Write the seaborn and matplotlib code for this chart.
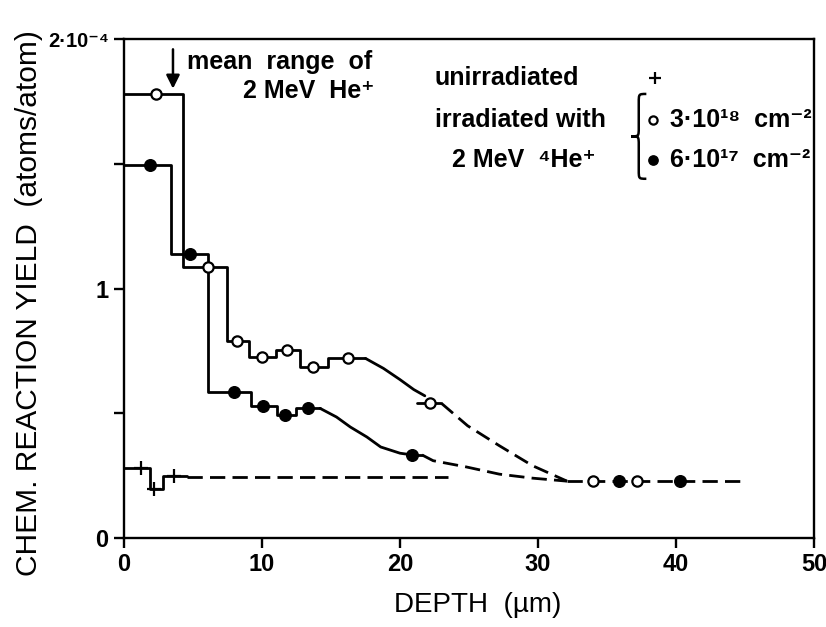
import matplotlib
matplotlib.use("Agg")
import matplotlib.pyplot as plt
import seaborn as sns
from matplotlib.path import Path
from matplotlib.patches import PathPatch

# Chemical reaction yield (units of 1e-4 atoms/atom) versus depth (µm)

# irradiated, 3·10^18 cm^-2 (open circles): histogram steps, then smooth fall-off
hi_edges = [0, 4.3, 7.45, 9.05, 11.0, 12.75, 14.8, 17.5]
hi_steps = [1.78, 1.085, 0.79, 0.725, 0.755, 0.685, 0.72]
hi_pts_x = [2.3, 6.1, 8.2, 10.0, 11.8, 13.7, 16.2]
hi_curve_x = [17.5, 18.8, 20.0, 21.0, 21.8]
hi_curve_y = [0.72, 0.68, 0.635, 0.595, 0.57]
hi_bar_x = [21.2, 23.0]
hi_bar_y = [0.54, 0.54]
hi_mid_x = [22.2]
hi_mid_y = [0.54]
hi_tail_x = [23.0, 24.9, 27.2, 29.6, 32.1]
hi_tail_y = [0.54, 0.45, 0.37, 0.29, 0.228]

# irradiated, 6·10^17 cm^-2 (filled circles)
lo_edges = [0, 3.4, 6.1, 9.2, 11.1, 12.5, 14.2]
lo_steps = [1.495, 1.14, 0.585, 0.53, 0.493, 0.52]
lo_pts_x = [1.9, 4.8, 8.0, 10.1, 11.7, 13.3]
lo_curve_x = [14.2, 15.4, 16.4, 17.6, 18.6, 20.0, 20.9]
lo_curve_y = [0.52, 0.485, 0.445, 0.405, 0.365, 0.34, 0.333]
lo_bar_x = [20.9, 21.6]
lo_bar_y = [0.333, 0.333]
lo_mid_x = [20.9]
lo_mid_y = [0.333]
lo_tail_x = [21.6, 22.4, 24.8, 27.2, 29.6, 32.1]
lo_tail_y = [0.333, 0.31, 0.285, 0.256, 0.24, 0.228]

# unirradiated (+)
un_edges = [0, 1.9, 2.8, 4.6]
un_steps = [0.28, 0.195, 0.25]
un_pts_x = [1.2, 2.2, 3.6]
un_line_x = [4.6, 23.5]
un_line_y = [0.245, 0.245]

# common deep background level
deep_x = [32.1, 44.8]
deep_y = [0.228, 0.228]
deep_open_x = [34.0, 37.2]
deep_fill_x = [35.9, 40.3]

x_ticks = [0, 10, 20, 30, 40, 50]
y_ticks = [0, 0.5, 1, 1.5, 2]
y_tick_labels = ["0", "", "1", "", "2·10⁻⁴"]

sns.set_theme(style="ticks")
BOLD = ["Liberation Sans", "DejaVu Sans"]
NARROW = ["Liberation Sans Narrow", "Liberation Sans", "DejaVu Sans"]
plt.rcParams["font.family"] = BOLD

fig = plt.figure(figsize=(8.26, 6.27), dpi=100)
ax = fig.add_axes([0.1501, 0.1419, 0.8354, 0.7958])

LW = 2.0
DASH = (0, (5.5, 2.6))


def steps(edges, vals, **kw):
    sns.lineplot(x=edges, y=list(vals) + [vals[-1]], drawstyle="steps-post",
                 color="black", lw=LW, ax=ax, zorder=2, **kw)


def line(xs, ys, ls="-"):
    sns.lineplot(x=xs, y=ys, color="black", lw=LW, linestyle=ls, ax=ax,
                 zorder=2, sort=False)


def open_pts(xs, ys, s=55):
    sns.scatterplot(x=xs, y=ys, marker="o", s=s, color="white",
                    edgecolor="black", linewidth=1.6, ax=ax, zorder=4)


def fill_pts(xs, ys, s=70):
    sns.scatterplot(x=xs, y=ys, marker="o", s=s, color="black",
                    edgecolor="black", linewidth=1.0, ax=ax, zorder=4)


# open-circle series
steps(hi_edges, hi_steps)
open_pts(hi_pts_x, hi_steps)
line(hi_curve_x, hi_curve_y)
line(hi_bar_x, hi_bar_y)
open_pts(hi_mid_x, hi_mid_y)
line(hi_tail_x, hi_tail_y, DASH)

# filled-circle series
steps(lo_edges, lo_steps)
fill_pts(lo_pts_x, lo_steps)
line(lo_curve_x, lo_curve_y)
line(lo_bar_x, lo_bar_y)
fill_pts(lo_mid_x, lo_mid_y)
line(lo_tail_x, lo_tail_y, DASH)

# unirradiated series
steps(un_edges, un_steps)
sns.scatterplot(x=un_pts_x, y=un_steps, marker="+", s=90, color="black",
                linewidth=1.6, ax=ax, zorder=4)
line(un_line_x, un_line_y, DASH)

# deep background
line(deep_x, deep_y, DASH)
open_pts(deep_open_x, deep_y)
fill_pts(deep_fill_x, deep_y)

# axes
ax.set_xlim(0, 50)
ax.set_ylim(0, 2)
ax.set_xticks(x_ticks)
ax.set_xticklabels([str(t) for t in x_ticks])
ax.set_yticks(y_ticks)
ax.set_yticklabels(y_tick_labels)
for sp in ax.spines.values():
    sp.set_visible(True)
    sp.set_linewidth(1.7)
    sp.set_color("black")
ax.tick_params(direction="out", length=7, width=1.7, colors="black",
               labelsize=17, pad=4)
for lab in ax.get_xticklabels() + ax.get_yticklabels():
    lab.set_family(NARROW)
    lab.set_fontweight("bold")
ax.get_yticklabels()[-1].set_fontsize(14.5)

ax.set_xlabel("DEPTH  (µm)", fontsize=20, family=BOLD, va="center",
              color="black")
ax.set_ylabel("CHEM. REACTION YIELD  (atoms/atom)", fontsize=21.5,
              family=BOLD, va="center", color="black")
ax.xaxis.set_label_coords(0.513, -0.134)
ax.yaxis.set_label_coords(-0.138, 0.47)

# mean range annotation
ax.annotate("", xy=(3.55, 1.79), xytext=(3.55, 1.97),
            arrowprops=dict(arrowstyle="-|>", color="black", lw=1.8,
                            mutation_scale=20))
tk = dict(fontsize=18, fontweight="bold", family=BOLD, va="center",
          ha="left", color="black")
ax.text(4.6, 1.91, "mean  range  of", **tk)
ax.text(8.6, 1.79, "2 MeV  He⁺", **tk)

# key
ax.text(22.5, 1.845, "unirradiated", **tk)
ax.text(22.5, 1.675, "irradiated with", **tk)
ax.text(23.8, 1.515, "2 MeV  ⁴He⁺", **tk)
sns.scatterplot(x=[38.5], y=[1.845], marker="+", s=70, color="black",
                linewidth=1.6, ax=ax, zorder=4)
open_pts([38.35], [1.675], s=35)
fill_pts([38.35], [1.515], s=45)
ax.text(39.6, 1.675, "3·10¹⁸  cm⁻²", **tk)
ax.text(39.6, 1.515, "6·10¹⁷  cm⁻²", **tk)

# curly brace grouping the two fluences
xr, xl = 37.85, 36.75
xc = (xr + xl) / 2
yt, yb = 1.78, 1.44
ym = (yt + yb) / 2
d = 0.035
verts = [(xr, yt), (xc, yt), (xc, yt), (xc, yt - d),
         (xc, ym + d),
         (xc, ym), (xc, ym), (xl, ym),
         (xc, ym), (xc, ym), (xc, ym - d),
         (xc, yb + d),
         (xc, yb), (xc, yb), (xr, yb)]
codes = [Path.MOVETO, Path.CURVE4, Path.CURVE4, Path.CURVE4,
         Path.LINETO,
         Path.CURVE4, Path.CURVE4, Path.CURVE4,
         Path.CURVE4, Path.CURVE4, Path.CURVE4,
         Path.LINETO,
         Path.CURVE4, Path.CURVE4, Path.CURVE4]
ax.add_patch(PathPatch(Path(verts, codes), fill=False, lw=1.8,
                       edgecolor="black"))

fig.savefig("out.png", dpi=100, facecolor="white")
